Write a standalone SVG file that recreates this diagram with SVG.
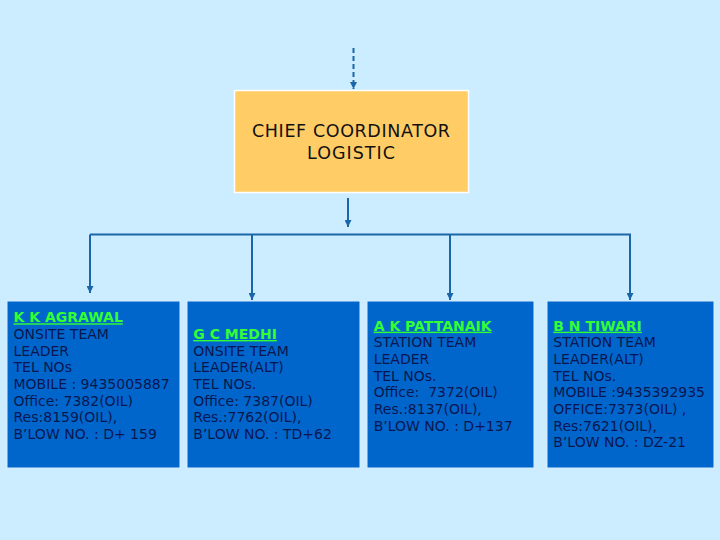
<svg xmlns="http://www.w3.org/2000/svg" width="720" height="540" viewBox="0 0 720 540">
<style>
.bg{fill:#CCECFF}
.box{fill:#0066CC;stroke:#D8EEFF;stroke-width:1}
.chief{fill:#FFCC66;stroke:#FFFFFF;stroke-width:1.5}
.ct{font-family:"DejaVu Sans",Verdana,sans-serif;font-size:17.5px;fill:#111111;text-anchor:middle}
.t{font-family:"DejaVu Sans",Verdana,sans-serif;font-size:14px;fill:#0A1650;white-space:pre}
.n{font-family:"DejaVu Sans",Verdana,sans-serif;font-size:14px;font-weight:bold;fill:#33FF33;text-decoration:underline}
.ln{fill:none;stroke:#1A66A8;stroke-width:2}
</style>
<defs>
<marker id="ah" viewBox="0 0 10 10" refX="10" refY="5" markerWidth="7" markerHeight="7" orient="auto" markerUnits="userSpaceOnUse">
<path d="M0,0 L10,5 L0,10 z" fill="#1A66A8"/>
</marker>
</defs>
<rect class="bg" x="0" y="0" width="720" height="540"/>
<g id="connectors">
<line class="ln" x1="353.5" y1="48" x2="353.5" y2="89" stroke-dasharray="5,3" marker-end="url(#ah)"/>
<line class="ln" x1="348" y1="198" x2="348" y2="227" marker-end="url(#ah)"/>
<polyline class="ln" points="90,234.5 630,234.5 630,300" marker-end="url(#ah)"/>
<line class="ln" x1="90" y1="234.5" x2="90" y2="293" marker-end="url(#ah)"/>
<line class="ln" x1="252" y1="234.5" x2="252" y2="300" marker-end="url(#ah)"/>
<line class="ln" x1="450" y1="234.5" x2="450" y2="300" marker-end="url(#ah)"/>
</g>
<g id="chief">
<rect class="chief" x="234.5" y="90.5" width="234" height="102"/>
<text class="ct" x="351" y="136.5" textLength="198" lengthAdjust="spacing">CHIEF COORDINATOR</text>
<text class="ct" x="351" y="158.5" textLength="88" lengthAdjust="spacing">LOGISTIC</text>
</g>
<g id="agrawal">
<rect class="box" x="7" y="301" width="173" height="167"/>
<text class="n" x="13.5" y="322.3">K K AGRAWAL</text>
<text class="t" x="13.5" y="339">ONSITE TEAM</text>
<text class="t" x="13.5" y="355.7">LEADER</text>
<text class="t" x="13.5" y="372.3">TEL NOs</text>
<text class="t" x="13.5" y="389">MOBILE : 9435005887</text>
<text class="t" x="13.5" y="405.7">Office: 7382(OIL)</text>
<text class="t" x="13.5" y="422.3">Res:8159(OIL),</text>
<text class="t" x="13.5" y="439">B’LOW NO. : D+ 159</text>
</g>
<g id="medhi">
<rect class="box" x="187" y="301" width="173" height="167"/>
<text class="n" x="193.3" y="339">G C MEDHI</text>
<text class="t" x="193.3" y="355.7">ONSITE TEAM</text>
<text class="t" x="193.3" y="372.3">LEADER(ALT)</text>
<text class="t" x="193.3" y="389">TEL NOs.</text>
<text class="t" x="193.3" y="405.7">Office: 7387(OIL)</text>
<text class="t" x="193.3" y="422.3">Res.:7762(OIL),</text>
<text class="t" x="193.3" y="439">B’LOW NO. : TD+62</text>
</g>
<g id="pattanaik">
<rect class="box" x="367" y="301" width="167" height="167"/>
<text class="n" x="373.7" y="330.7">A K PATTANAIK</text>
<text class="t" x="373.7" y="347.3">STATION TEAM</text>
<text class="t" x="373.7" y="364">LEADER</text>
<text class="t" x="373.7" y="380.7">TEL NOs.</text>
<text class="t" x="373.7" y="397.3">Office:  7372(OIL)</text>
<text class="t" x="373.7" y="414">Res.:8137(OIL),</text>
<text class="t" x="373.7" y="430.7">B’LOW NO. : D+137</text>
</g>
<g id="tiwari">
<rect class="box" x="547" y="301" width="167" height="167"/>
<text class="n" x="553.3" y="330.7">B N TIWARI</text>
<text class="t" x="553.3" y="347.3">STATION TEAM</text>
<text class="t" x="553.3" y="364">LEADER(ALT)</text>
<text class="t" x="553.3" y="380.7">TEL NOs.</text>
<text class="t" x="553.3" y="397.3">MOBILE :9435392935</text>
<text class="t" x="553.3" y="414">OFFICE:7373(OIL) ,</text>
<text class="t" x="553.3" y="430.7">Res:7621(OIL),</text>
<text class="t" x="553.3" y="447.3">B’LOW NO. : DZ-21</text>
</g>
</svg>
